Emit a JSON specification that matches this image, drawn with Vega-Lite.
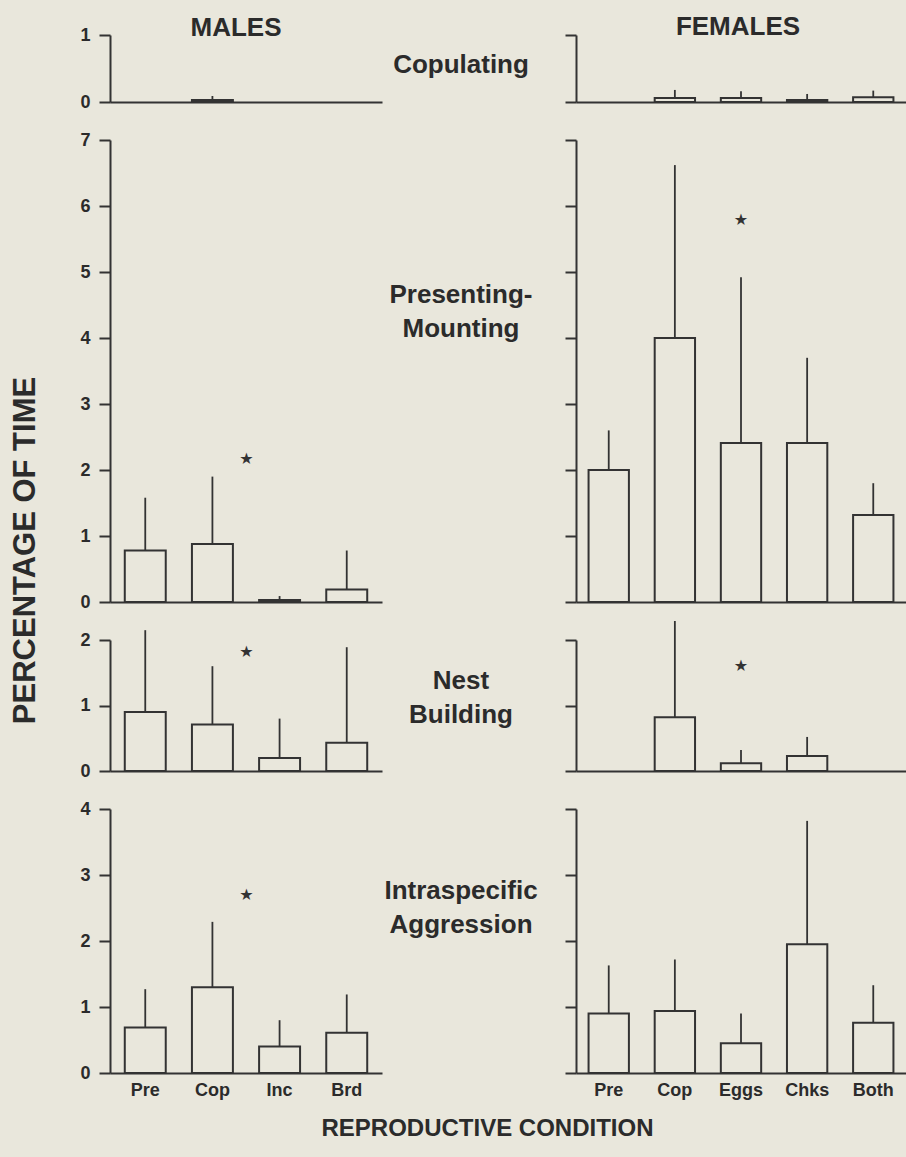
{
  "$schema": "https://vega.github.io/schema/vega-lite/v6.json",
  "autosize": {"type": "none"},
  "padding": {"left": 110, "top": 35, "right": 796, "bottom": 1122},
  "background": "#e9e7dc",
  "columns": 3,
  "align": "each",
  "bounds": "flush",
  "spacing": {"row": 38, "column": 0},
  "datasets": {
    "bars": [
      {"sex": "M", "behavior": "Copulating", "cond": "Cop", "value": 0.03, "upper": 0.09},
      {"sex": "M", "behavior": "Presenting", "cond": "Pre", "value": 0.78, "upper": 1.58},
      {"sex": "M", "behavior": "Presenting", "cond": "Cop", "value": 0.88, "upper": 1.9},
      {"sex": "M", "behavior": "Presenting", "cond": "Inc", "value": 0.03, "upper": 0.09},
      {"sex": "M", "behavior": "Presenting", "cond": "Brd", "value": 0.19, "upper": 0.78},
      {"sex": "M", "behavior": "Nest", "cond": "Pre", "value": 0.9, "upper": 2.15},
      {"sex": "M", "behavior": "Nest", "cond": "Cop", "value": 0.71, "upper": 1.6},
      {"sex": "M", "behavior": "Nest", "cond": "Inc", "value": 0.2, "upper": 0.8},
      {"sex": "M", "behavior": "Nest", "cond": "Brd", "value": 0.43, "upper": 1.89},
      {"sex": "M", "behavior": "Aggression", "cond": "Pre", "value": 0.69, "upper": 1.27},
      {"sex": "M", "behavior": "Aggression", "cond": "Cop", "value": 1.3, "upper": 2.29},
      {"sex": "M", "behavior": "Aggression", "cond": "Inc", "value": 0.4, "upper": 0.8},
      {"sex": "M", "behavior": "Aggression", "cond": "Brd", "value": 0.61, "upper": 1.19},
      {"sex": "F", "behavior": "Copulating", "cond": "Cop", "value": 0.06, "upper": 0.18},
      {"sex": "F", "behavior": "Copulating", "cond": "Eggs", "value": 0.06, "upper": 0.16},
      {"sex": "F", "behavior": "Copulating", "cond": "Chks", "value": 0.03, "upper": 0.12},
      {"sex": "F", "behavior": "Copulating", "cond": "Both", "value": 0.07, "upper": 0.17},
      {"sex": "F", "behavior": "Presenting", "cond": "Pre", "value": 2.0, "upper": 2.6},
      {"sex": "F", "behavior": "Presenting", "cond": "Cop", "value": 4.0, "upper": 6.62},
      {"sex": "F", "behavior": "Presenting", "cond": "Eggs", "value": 2.41, "upper": 4.92},
      {"sex": "F", "behavior": "Presenting", "cond": "Chks", "value": 2.41, "upper": 3.7},
      {"sex": "F", "behavior": "Presenting", "cond": "Both", "value": 1.32, "upper": 1.8},
      {"sex": "F", "behavior": "Nest", "cond": "Cop", "value": 0.82, "upper": 2.29},
      {"sex": "F", "behavior": "Nest", "cond": "Eggs", "value": 0.12, "upper": 0.32},
      {"sex": "F", "behavior": "Nest", "cond": "Chks", "value": 0.23, "upper": 0.52},
      {"sex": "F", "behavior": "Aggression", "cond": "Pre", "value": 0.9, "upper": 1.63},
      {"sex": "F", "behavior": "Aggression", "cond": "Cop", "value": 0.94, "upper": 1.72},
      {"sex": "F", "behavior": "Aggression", "cond": "Eggs", "value": 0.45, "upper": 0.9},
      {"sex": "F", "behavior": "Aggression", "cond": "Chks", "value": 1.95, "upper": 3.82},
      {"sex": "F", "behavior": "Aggression", "cond": "Both", "value": 0.76, "upper": 1.33}
    ],
    "stars": [
      {"sex": "M", "behavior": "Presenting", "cond": "Cop", "value": 2.17},
      {"sex": "M", "behavior": "Nest", "cond": "Cop", "value": 1.82},
      {"sex": "M", "behavior": "Aggression", "cond": "Cop", "value": 2.69},
      {"sex": "F", "behavior": "Presenting", "cond": "Eggs", "value": 5.79},
      {"sex": "F", "behavior": "Nest", "cond": "Eggs", "value": 1.6}
    ],
    "labels": [
      {"behavior": "Copulating", "label": "Copulating"},
      {"behavior": "Presenting", "label": "Presenting-\nMounting"},
      {"behavior": "Nest", "label": "Nest\nBuilding"},
      {"behavior": "Aggression", "label": "Intraspecific\nAggression"}
    ]
  },
  "config": {
    "view": {"stroke": null},
    "font": "Liberation Sans",
    "axis": {
      "domainColor": "#333333", "domainWidth": 2,
      "tickColor": "#333333", "tickWidth": 2,
      "grid": false,
      "labelFont": "Liberation Sans", "labelFontWeight": "bold", "labelFontSize": 18, "labelColor": "#2b2b2b",
      "titleFont": "Liberation Sans", "titleFontWeight": "bold", "titleColor": "#2b2b2b"
    },
    "axisY": {"tickSize": 11, "labelPadding": 9, "format": "d"},
    "axisX": {"ticks": false, "labelPadding": 8, "labelAngle": 0},
    "title": {"font": "Liberation Sans", "fontWeight": "bold", "fontSize": 26, "color": "#2b2b2b", "offset": 0, "anchor": "middle", "frame": "group", "baseline": "alphabetic"},
    "text": {"font": "Liberation Sans", "color": "#2b2b2b"}
  },
  "concat": [
    {
      "width": 272, "height": 67,
      "title": {"text": "MALES", "dx": -10, "dy": 19},
      "encoding": {
        "x": {"field": "cond", "type": "nominal", "scale": {"domain": ["Pre", "Cop", "Inc", "Brd"], "paddingInner": 0.39, "paddingOuter": 0.22}, "axis": {"labels": false, "title": null}},
        "y": {"field": "value", "type": "quantitative", "scale": {"domain": [0, 1], "nice": false}, "axis": {"values": [0, 1], "title": null}}
      },
      "layer": [
        {"data": {"name": "bars"}, "transform": [{"filter": "datum.sex === 'M' && datum.behavior === 'Copulating'"}],
         "mark": {"type": "bar", "fill": "#e9e7dc", "stroke": "#333333", "strokeWidth": 2}},
        {"data": {"name": "bars"}, "transform": [{"filter": "datum.sex === 'M' && datum.behavior === 'Copulating'"}],
         "mark": {"type": "rule", "stroke": "#333333", "strokeWidth": 1.8}, "encoding": {"y2": {"field": "upper"}}}
      ]
    },
    {
      "width": 194, "height": 67,
      "data": {"name": "labels"},
      "transform": [{"filter": "datum.behavior === 'Copulating'"}],
      "mark": {"type": "text", "fontSize": 26, "fontWeight": "bold", "lineBreak": "\n", "lineHeight": 34, "dx": -18, "dy": -4, "baseline": "middle"},
      "encoding": {"text": {"field": "label"}}
    },
    {
      "width": 330, "height": 67,
      "title": {"text": "FEMALES", "dx": -3, "dy": 10},
      "encoding": {
        "x": {"field": "cond", "type": "nominal", "scale": {"domain": ["Pre", "Cop", "Eggs", "Chks", "Both"], "paddingInner": 0.39, "paddingOuter": 0.19}, "axis": {"labels": false, "title": null}},
        "y": {"field": "value", "type": "quantitative", "scale": {"domain": [0, 1], "nice": false}, "axis": {"values": [0, 1], "labels": false, "title": null}}
      },
      "layer": [
        {"data": {"name": "bars"}, "transform": [{"filter": "datum.sex === 'F' && datum.behavior === 'Copulating'"}],
         "mark": {"type": "bar", "fill": "#e9e7dc", "stroke": "#333333", "strokeWidth": 2}},
        {"data": {"name": "bars"}, "transform": [{"filter": "datum.sex === 'F' && datum.behavior === 'Copulating'"}],
         "mark": {"type": "rule", "stroke": "#333333", "strokeWidth": 1.8}, "encoding": {"y2": {"field": "upper"}}}
      ]
    },
    {
      "width": 272, "height": 462,
      "encoding": {
        "x": {"field": "cond", "type": "nominal", "scale": {"domain": ["Pre", "Cop", "Inc", "Brd"], "paddingInner": 0.39, "paddingOuter": 0.22}, "axis": {"labels": false, "title": null}},
        "y": {"field": "value", "type": "quantitative", "scale": {"domain": [0, 7], "nice": false}, "axis": {"values": [0, 1, 2, 3, 4, 5, 6, 7], "title": "PERCENTAGE OF TIME", "titleFontSize": 31, "titleX": -85, "titleY": 410, "titleAngle": -90, "titleAlign": "center", "titleBaseline": "middle"}}
      },
      "layer": [
        {"data": {"name": "bars"}, "transform": [{"filter": "datum.sex === 'M' && datum.behavior === 'Presenting'"}],
         "mark": {"type": "bar", "fill": "#e9e7dc", "stroke": "#333333", "strokeWidth": 2}},
        {"data": {"name": "bars"}, "transform": [{"filter": "datum.sex === 'M' && datum.behavior === 'Presenting'"}],
         "mark": {"type": "rule", "stroke": "#333333", "strokeWidth": 1.8}, "encoding": {"y2": {"field": "upper"}}},
        {"data": {"name": "stars"}, "transform": [{"filter": "datum.sex === 'M' && datum.behavior === 'Presenting'"}],
         "mark": {"type": "text", "text": "★", "font": "DejaVu Sans", "fontSize": 16, "dx": 34, "baseline": "middle", "align": "center", "color": "#333333"}}
      ]
    },
    {
      "width": 194, "height": 462,
      "data": {"name": "labels"},
      "transform": [{"filter": "datum.behavior === 'Presenting'"}],
      "mark": {"type": "text", "fontSize": 26, "fontWeight": "bold", "lineBreak": "\n", "lineHeight": 34, "dx": -18, "dy": -76, "baseline": "middle"},
      "encoding": {"text": {"field": "label"}}
    },
    {
      "width": 330, "height": 462,
      "encoding": {
        "x": {"field": "cond", "type": "nominal", "scale": {"domain": ["Pre", "Cop", "Eggs", "Chks", "Both"], "paddingInner": 0.39, "paddingOuter": 0.19}, "axis": {"labels": false, "title": null}},
        "y": {"field": "value", "type": "quantitative", "scale": {"domain": [0, 7], "nice": false}, "axis": {"values": [0, 1, 2, 3, 4, 5, 6, 7], "labels": false, "title": null}}
      },
      "layer": [
        {"data": {"name": "bars"}, "transform": [{"filter": "datum.sex === 'F' && datum.behavior === 'Presenting'"}],
         "mark": {"type": "bar", "fill": "#e9e7dc", "stroke": "#333333", "strokeWidth": 2}},
        {"data": {"name": "bars"}, "transform": [{"filter": "datum.sex === 'F' && datum.behavior === 'Presenting'"}],
         "mark": {"type": "rule", "stroke": "#333333", "strokeWidth": 1.8}, "encoding": {"y2": {"field": "upper"}}},
        {"data": {"name": "stars"}, "transform": [{"filter": "datum.sex === 'F' && datum.behavior === 'Presenting'"}],
         "mark": {"type": "text", "text": "★", "font": "DejaVu Sans", "fontSize": 16, "baseline": "middle", "align": "center", "color": "#333333"}}
      ]
    },
    {
      "width": 272, "height": 131,
      "encoding": {
        "x": {"field": "cond", "type": "nominal", "scale": {"domain": ["Pre", "Cop", "Inc", "Brd"], "paddingInner": 0.39, "paddingOuter": 0.22}, "axis": {"labels": false, "title": null}},
        "y": {"field": "value", "type": "quantitative", "scale": {"domain": [0, 2], "nice": false}, "axis": {"values": [0, 1, 2], "title": null}}
      },
      "layer": [
        {"data": {"name": "bars"}, "transform": [{"filter": "datum.sex === 'M' && datum.behavior === 'Nest'"}],
         "mark": {"type": "bar", "fill": "#e9e7dc", "stroke": "#333333", "strokeWidth": 2}},
        {"data": {"name": "bars"}, "transform": [{"filter": "datum.sex === 'M' && datum.behavior === 'Nest'"}],
         "mark": {"type": "rule", "stroke": "#333333", "strokeWidth": 1.8}, "encoding": {"y2": {"field": "upper"}}},
        {"data": {"name": "stars"}, "transform": [{"filter": "datum.sex === 'M' && datum.behavior === 'Nest'"}],
         "mark": {"type": "text", "text": "★", "font": "DejaVu Sans", "fontSize": 16, "dx": 34, "baseline": "middle", "align": "center", "color": "#333333"}}
      ]
    },
    {
      "width": 194, "height": 131,
      "data": {"name": "labels"},
      "transform": [{"filter": "datum.behavior === 'Nest'"}],
      "mark": {"type": "text", "fontSize": 26, "fontWeight": "bold", "lineBreak": "\n", "lineHeight": 34, "dx": -18, "dy": -25, "baseline": "middle"},
      "encoding": {"text": {"field": "label"}}
    },
    {
      "width": 330, "height": 131,
      "encoding": {
        "x": {"field": "cond", "type": "nominal", "scale": {"domain": ["Pre", "Cop", "Eggs", "Chks", "Both"], "paddingInner": 0.39, "paddingOuter": 0.19}, "axis": {"labels": false, "title": null}},
        "y": {"field": "value", "type": "quantitative", "scale": {"domain": [0, 2], "nice": false}, "axis": {"values": [0, 1, 2], "labels": false, "title": null}}
      },
      "layer": [
        {"data": {"name": "bars"}, "transform": [{"filter": "datum.sex === 'F' && datum.behavior === 'Nest'"}],
         "mark": {"type": "bar", "fill": "#e9e7dc", "stroke": "#333333", "strokeWidth": 2}},
        {"data": {"name": "bars"}, "transform": [{"filter": "datum.sex === 'F' && datum.behavior === 'Nest'"}],
         "mark": {"type": "rule", "stroke": "#333333", "strokeWidth": 1.8}, "encoding": {"y2": {"field": "upper"}}},
        {"data": {"name": "stars"}, "transform": [{"filter": "datum.sex === 'F' && datum.behavior === 'Nest'"}],
         "mark": {"type": "text", "text": "★", "font": "DejaVu Sans", "fontSize": 16, "baseline": "middle", "align": "center", "color": "#333333"}}
      ]
    },
    {
      "width": 272, "height": 264,
      "encoding": {
        "x": {"field": "cond", "type": "nominal", "scale": {"domain": ["Pre", "Cop", "Inc", "Brd"], "paddingInner": 0.39, "paddingOuter": 0.22}, "axis": {"labels": true, "title": "REPRODUCTIVE CONDITION", "titleFontSize": 24, "titleX": 377, "titleY": 55, "titleAlign": "center", "titleBaseline": "middle"}},
        "y": {"field": "value", "type": "quantitative", "scale": {"domain": [0, 4], "nice": false}, "axis": {"values": [0, 1, 2, 3, 4], "title": null}}
      },
      "layer": [
        {"data": {"name": "bars"}, "transform": [{"filter": "datum.sex === 'M' && datum.behavior === 'Aggression'"}],
         "mark": {"type": "bar", "fill": "#e9e7dc", "stroke": "#333333", "strokeWidth": 2}},
        {"data": {"name": "bars"}, "transform": [{"filter": "datum.sex === 'M' && datum.behavior === 'Aggression'"}],
         "mark": {"type": "rule", "stroke": "#333333", "strokeWidth": 1.8}, "encoding": {"y2": {"field": "upper"}}},
        {"data": {"name": "stars"}, "transform": [{"filter": "datum.sex === 'M' && datum.behavior === 'Aggression'"}],
         "mark": {"type": "text", "text": "★", "font": "DejaVu Sans", "fontSize": 16, "dx": 34, "baseline": "middle", "align": "center", "color": "#333333"}}
      ]
    },
    {
      "width": 194, "height": 264,
      "data": {"name": "labels"},
      "transform": [{"filter": "datum.behavior === 'Aggression'"}],
      "mark": {"type": "text", "fontSize": 26, "fontWeight": "bold", "lineBreak": "\n", "lineHeight": 34, "dx": -18, "dy": -50, "baseline": "middle"},
      "encoding": {"text": {"field": "label"}}
    },
    {
      "width": 330, "height": 264,
      "encoding": {
        "x": {"field": "cond", "type": "nominal", "scale": {"domain": ["Pre", "Cop", "Eggs", "Chks", "Both"], "paddingInner": 0.39, "paddingOuter": 0.19}, "axis": {"labels": true, "title": null}},
        "y": {"field": "value", "type": "quantitative", "scale": {"domain": [0, 4], "nice": false}, "axis": {"values": [0, 1, 2, 3, 4], "labels": false, "title": null}}
      },
      "layer": [
        {"data": {"name": "bars"}, "transform": [{"filter": "datum.sex === 'F' && datum.behavior === 'Aggression'"}],
         "mark": {"type": "bar", "fill": "#e9e7dc", "stroke": "#333333", "strokeWidth": 2}},
        {"data": {"name": "bars"}, "transform": [{"filter": "datum.sex === 'F' && datum.behavior === 'Aggression'"}],
         "mark": {"type": "rule", "stroke": "#333333", "strokeWidth": 1.8}, "encoding": {"y2": {"field": "upper"}}}
      ]
    }
  ]
}
